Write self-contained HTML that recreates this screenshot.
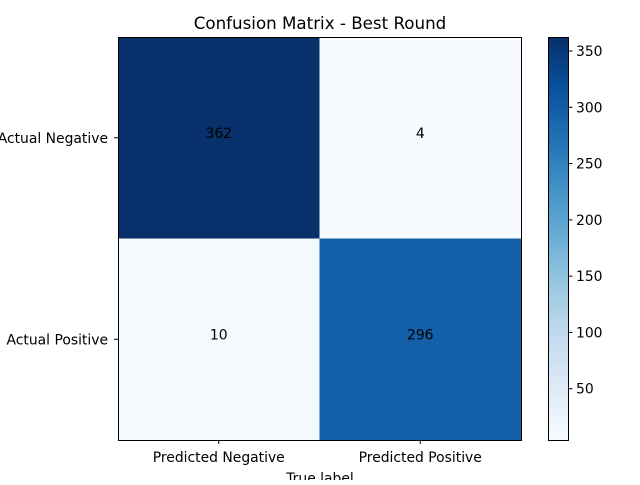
<!DOCTYPE html>
<html><head><meta charset="utf-8"><style>
body{margin:0;background:#fff;}
svg text{font-family:"DejaVu Sans","Liberation Sans",sans-serif;font-size:13.9px;fill:#000;}
</style></head><body>
<svg id="chart" width="640" height="480" xmlns="http://www.w3.org/2000/svg">
<defs><linearGradient id="blues" x1="0" y1="1" x2="0" y2="0">
<stop offset="0" stop-color="#f7fbff"/><stop offset="0.125" stop-color="#deebf7"/><stop offset="0.25" stop-color="#c6dbef"/><stop offset="0.375" stop-color="#9ecae1"/><stop offset="0.5" stop-color="#6baed6"/><stop offset="0.625" stop-color="#4292c6"/><stop offset="0.75" stop-color="#2171b5"/><stop offset="0.875" stop-color="#08519c"/><stop offset="1" stop-color="#08306b"/>
</linearGradient></defs>
<text x="320" y="29" text-anchor="middle" style="font-size:16.7px">Confusion Matrix - Best Round</text>
<g id="cells"></g>
<rect x="118.5" y="37.5" width="403" height="403" fill="none" stroke="#000"/>
<g id="axes"></g>
<text x="320" y="483" text-anchor="middle">True label</text>
<rect x="548.5" y="37.5" width="20" height="403" fill="url(#blues)" stroke="#000"/>
<g id="cbar"></g>
</svg>
<script>
const xCategories=["Predicted Negative","Predicted Positive"];
const yCategories=["Actual Negative","Actual Positive"];
const row0=[362,4];
const row1=[10,296];
const cbTicks=[50,100,150,200,250,300,350];
const matrix=[row0,row1];
const NS="http://www.w3.org/2000/svg";
const stops=[[0,[247,251,255]],[0.125,[222,235,247]],[0.25,[198,219,239]],[0.375,[158,202,225]],[0.5,[107,174,214]],[0.625,[66,146,198]],[0.75,[33,113,181]],[0.875,[8,81,156]],[1,[8,48,107]]];
const all=matrix.flat();const vmin=Math.min(...all),vmax=Math.max(...all);
function color(v){let t=(v-vmin)/(vmax-vmin);for(let i=1;i<stops.length;i++){if(t<=stops[i][0]){const a=stops[i-1],b=stops[i];const f=(t-a[0])/(b[0]-a[0]);const c=a[1].map((x,k)=>Math.round(x+(b[1][k]-x)*f));return `rgb(${c})`;}}return "rgb(8,48,107)";}
const X0=118,Y0=37,S=403;const cw=S/xCategories.length,ch=S/yCategories.length;
const xs=i=>X0+cw*(i+0.5),ys=j=>Y0+ch*(j+0.5);
function mk(tag,attrs,parent,text){const e=document.createElementNS(NS,tag);for(const k in attrs)e.setAttribute(k,attrs[k]);if(text!==undefined)e.textContent=text;parent.appendChild(e);return e;}
const cells=document.getElementById('cells'),axes=document.getElementById('axes'),cbar=document.getElementById('cbar');
matrix.forEach((row,j)=>row.forEach((v,i)=>{
 const r=mk('rect',{x:X0+cw*i,y:Y0+ch*j,width:cw+0.5,height:ch+0.5,fill:color(v)},cells);
 
 
 const t=mk('text',{x:xs(i),y:ys(j),'text-anchor':'middle'},cells,String(v));
 
 
}));
xCategories.forEach((c,i)=>{
 mk('line',{x1:xs(i),x2:xs(i),y1:440,y2:444,stroke:'#000'},axes);
 const t=mk('text',{x:xs(i),y:462,'text-anchor':'middle'},axes,c);
 
 
});
yCategories.forEach((c,j)=>{
 mk('line',{x1:114,x2:118,y1:ys(j),y2:ys(j),stroke:'#000'},axes);
 const t=mk('text',{x:108,y:ys(j)+5,'text-anchor':'end'},axes,c);
 
 
});
const cy=v=>440.5-(v-vmin)/(vmax-vmin)*403;
cbTicks.forEach(v=>{
 mk('line',{x1:568.5,x2:572.5,y1:cy(v),y2:cy(v),stroke:'#000'},cbar);
 const t=mk('text',{x:576,y:cy(v)+5},cbar,String(v));
 
 
});
</script>
</body></html>
